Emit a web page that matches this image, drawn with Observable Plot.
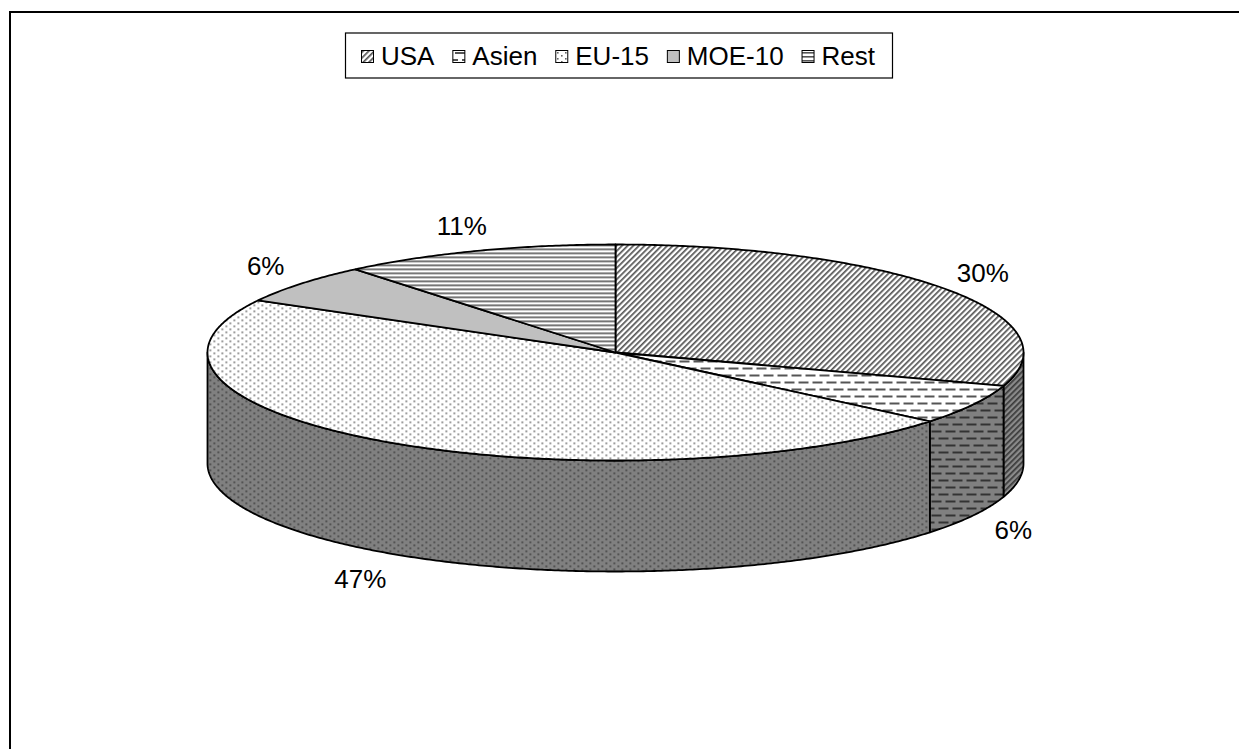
<!DOCTYPE html>
<html><head><meta charset="utf-8">
<script src="https://cdn.jsdelivr.net/npm/d3@7"></script>
<script src="https://cdn.jsdelivr.net/npm/@observablehq/plot@0.6"></script>
<style>
html,body{margin:0;padding:0;background:#fff;overflow:hidden;width:1239px;height:749px}
#wrap{position:relative;width:1239px;height:749px;overflow:hidden}
#frame{position:absolute;left:9px;top:11px;width:1300px;height:800px;border-left:2px solid #000;border-top:2px solid #000;pointer-events:none}
#chart svg{display:block}
</style></head><body>
<div id="wrap"><div id="chart"></div><div id="frame"></div></div>
<script>
// ---- data ----
const categories = ["USA", "Asien", "EU-15", "MOE-10", "Rest"];
const shares = [30, 6, 47, 6, 11];
const labels = ["30%", "6%", "47%", "6%", "11%"];

// ---- styles ----
const topFill = {"USA": "url(#pUSA)", "Asien": "url(#pAsien)", "EU-15": "url(#pEU)", "MOE-10": "#c0c0c0", "Rest": "url(#pRest)"};
const sideFill = {"USA": "url(#sUSA)", "Asien": "url(#sAsien)", "EU-15": "url(#sEU)", "MOE-10": "#808080", "Rest": "url(#sRest)"};
const FONT = "Arial, 'Liberation Sans', sans-serif";
const FS = 26;

// ---- layout ----
const W = 1239, H = 749;
const CX = 615, CY = 352, RX = 408, RY = 108, DEPTH = 111;
const D = DEPTH / RY;
const toX = p => (p - CX) / RX, toY = p => (p - CY) / RY;

const total = d3.sum(shares);
let acc = 0;
const slices = categories.map((c, i) => {
  const a0 = acc / total * 2 * Math.PI; acc += shares[i];
  const a1 = acc / total * 2 * Math.PI;
  return {c, i, a0, a1, label: labels[i]};
});

function arc(a0, a1, off) {
  const n = Math.max(2, Math.ceil((a1 - a0) / (Math.PI / 360)));
  return d3.range(n + 1).map(k => {
    const a = a0 + (a1 - a0) * k / n;
    return {x: Math.sin(a), y: -Math.cos(a) + off};
  });
}

const marks = [];
// sides (front half only: angles PI/2 .. 3PI/2)
for (const s of slices) {
  const a = Math.max(s.a0, Math.PI / 2), b = Math.min(s.a1, 3 * Math.PI / 2);
  if (b <= a) continue;
  const pts = [...arc(a, b, 0), ...arc(a, b, D).reverse()];
  pts.push(pts[0]);
  marks.push(Plot.line(pts, {x: "x", y: "y", fill: sideFill[s.c], stroke: "#000", strokeWidth: 1.8, strokeLinejoin: "round", curve: "linear"}));
}
// top faces
for (const s of slices) {
  const pts = [{x: 0, y: 0}, ...arc(s.a0, s.a1, 0), {x: 0, y: 0}];
  marks.push(Plot.line(pts, {x: "x", y: "y", fill: topFill[s.c], stroke: "#000", strokeWidth: 1.8, strokeLinejoin: "round", curve: "linear"}));
}
// labels
const labelData = slices.map(s => {
  const m = (s.a0 + s.a1) / 2;
  const front = Math.cos(m) < 0;
  const lx = Math.sin(m) * (RX + 46) / RX;
  const ly = -Math.cos(m) * (RY + (front ? 32 : 26)) / RY + (front ? D : 0);
  return {x: lx, y: ly, t: s.label};
});
marks.push(Plot.text(labelData, {x: "x", y: "y", text: "t", fontSize: FS, fontFamily: FONT, fill: "#000"}));

// legend
const ctx = document.createElement("canvas").getContext("2d");
ctx.font = `${FS}px ${FONT}`;
const SW = 12, GAP1 = 7, PADL = 16, PADR = 18, BOXW = 547;
const widths = categories.map(c => ctx.measureText(c).width);
const GAP2 = Math.max(4, (BOXW - PADL - PADR - d3.sum(widths) - categories.length * (SW + GAP1)) / (categories.length - 1));
const inner = d3.sum(widths) + categories.length * (SW + GAP1) + (categories.length - 1) * GAP2;
const boxW = inner + PADL + PADR;
const LCX = 619, LCY = 55.5, BOXH = 45;
const bx0 = LCX - boxW / 2;
let cur = bx0 + PADL;
const legItems = categories.map((c, i) => {
  const it = {c, sx: cur, tx: cur + SW + GAP1};
  cur = it.tx + widths[i] + GAP2;
  return it;
});
marks.push(Plot.rect([{}], {x1: toX(bx0), x2: toX(bx0 + boxW), y1: toY(LCY - BOXH / 2), y2: toY(LCY + BOXH / 2), fill: "#fff", stroke: "#000", strokeWidth: 1.2}));
for (const it of legItems) {
  marks.push(Plot.rect([it], {x1: d => toX(d.sx), x2: d => toX(d.sx + SW), y1: toY(LCY - SW / 2 + 1), y2: toY(LCY + SW / 2 + 1), fill: topFill[it.c], stroke: "#000", strokeWidth: 1}));
}
marks.push(Plot.text(legItems, {x: d => toX(d.tx), y: toY(LCY + 1), text: "c", textAnchor: "start", fontSize: FS, fontFamily: FONT, fill: "#000"}));

const svg = Plot.plot({
  width: W, height: H, margin: 0,
  x: {domain: [toX(0), toX(W)], range: [0, W], axis: null},
  y: {domain: [toY(0), toY(H)], range: [0, H], axis: null},
  style: {background: "#fff"},
  marks
});

const defs = `
<pattern id="pUSA" width="4" height="4" patternUnits="userSpaceOnUse" patternTransform="rotate(45)"><rect width="4" height="4" fill="#fff"/><rect width="1.7" height="4" fill="#555"/></pattern>
<pattern id="sUSA" width="4" height="4" patternUnits="userSpaceOnUse" patternTransform="rotate(45)"><rect width="4" height="4" fill="#8a8a8a"/><rect width="1.7" height="4" fill="#3a3a3a"/></pattern>
<pattern id="pAsien" width="14" height="14" patternUnits="userSpaceOnUse"><rect width="14" height="14" fill="#fff"/><rect x="0" y="3" width="10" height="2" fill="#555"/><rect x="7" y="10" width="7" height="2" fill="#555"/><rect x="0" y="10" width="3" height="2" fill="#555"/></pattern>
<pattern id="sAsien" width="14" height="14" patternUnits="userSpaceOnUse"><rect width="14" height="14" fill="#808080"/><rect x="0" y="3" width="10" height="2" fill="#333"/><rect x="7" y="10" width="7" height="2" fill="#333"/><rect x="0" y="10" width="3" height="2" fill="#333"/></pattern>
<pattern id="pEU" width="8" height="6" patternUnits="userSpaceOnUse"><rect width="8" height="6" fill="#fff"/><rect x="1" y="1" width="1.6" height="1.6" fill="#666"/><rect x="5" y="4" width="1.6" height="1.6" fill="#666"/></pattern>
<pattern id="sEU" width="8" height="6" patternUnits="userSpaceOnUse"><rect width="8" height="6" fill="#808080"/><rect x="1" y="1" width="1.6" height="1.6" fill="#3a3a3a"/><rect x="5" y="4" width="1.6" height="1.6" fill="#3a3a3a"/></pattern>
<pattern id="pRest" width="4" height="4" patternUnits="userSpaceOnUse"><rect width="4" height="4" fill="#fff"/><rect width="4" height="1.6" fill="#555"/></pattern>
<pattern id="sRest" width="4" height="4" patternUnits="userSpaceOnUse"><rect width="4" height="4" fill="#808080"/><rect width="4" height="1.6" fill="#333"/></pattern>`;
const d = document.createElementNS("http://www.w3.org/2000/svg", "defs");
d.innerHTML = defs;
svg.insertBefore(d, svg.firstChild);
document.getElementById("chart").appendChild(svg);
</script>
</body></html>
